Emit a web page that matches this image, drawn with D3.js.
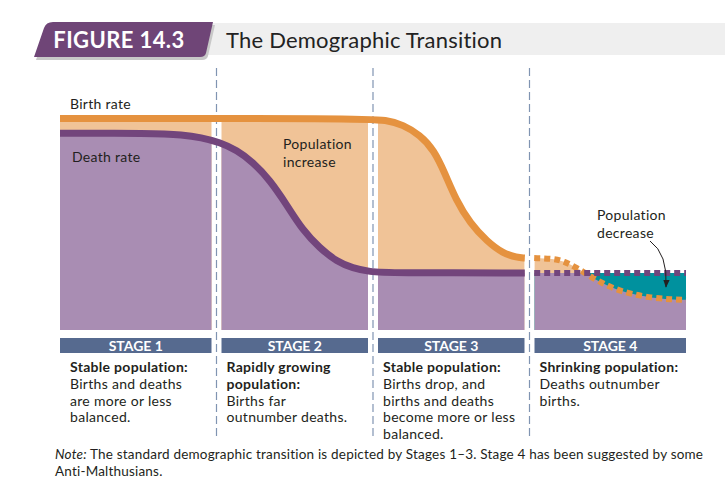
<!DOCTYPE html>
<html>
<head>
<meta charset="utf-8">
<script src="https://cdn.jsdelivr.net/npm/d3@7"></script>
<style>
  body { margin: 0; background: #fff; }
  svg { display: block; font-family: Lato, "Open Sans", sans-serif; }
</style>
</head>
<body>
<script>
const width = 725;
const height = 489;

// stages and their texts
const stageNames = ["STAGE 1", "STAGE 2", "STAGE 3", "STAGE 4"];
const stageHeads = [
    ["Stable population:"],
    ["Rapidly growing", "population:"],
    ["Stable population:"],
    ["Shrinking population:"]
];
const stageBodies = [
    ["Births and deaths", "are more or less", "balanced."],
    ["Births far", "outnumber deaths."],
    ["Births drop, and", "births and deaths", "become more or less", "balanced."],
    ["Deaths outnumber", "births."]
];

// rates for stages 1-3 (x in stage units)
const birthX = [0, 1.92, 2.09, 2.19, 2.30, 2.39, 2.46, 2.53, 2.62, 2.73, 2.83, 2.92, 2.97];
const birthRate = [40, 40, 39.7, 38.8, 36.9, 34.0, 29.6, 24.6, 20.2, 16.7, 14.5, 13.7, 13.6];
const deathX = [0, 0.58, 0.79, 0.9, 1.02, 1.13, 1.23, 1.34, 1.45, 1.55, 1.66, 1.77, 1.87, 1.98, 2.1, 2.97];
const deathRate = [37.2, 37.2, 36.9, 36.4, 35.5, 34.0, 31.8, 28.4, 23.6, 18.9, 15.5, 12.9, 11.7, 11.0, 10.8, 10.8];

// stage 4 (suggested, dashed)
const birth4X = [3.03, 3.15, 3.22, 3.30, 3.38, 3.46, 3.55, 3.65, 3.78, 3.9, 4.0];
const birth4Rate = [13.6, 13.5, 13.0, 11.8, 10.3, 8.9, 7.7, 6.8, 6.1, 5.8, 5.7];
const death4X = [3.03, 4.0];
const death4Rate = [10.8, 10.8];

const orange = "#E5923F", orangeFill = "#F0C397";
const purple = "#72457C", purpleFill = "#A98DB3";
const teal = "#00919E";
const ink = "#231F20";

const zip = (xs, ys) => xs.map((v, i) => [v, ys[i]]);
const birth = zip(birthX, birthRate);
const death = zip(deathX, deathRate);
const birth4 = zip(birth4X, birth4Rate);
const death4 = zip(death4X, death4Rate);

const svg = d3.select("body").append("svg")
    .attr("width", width)
    .attr("height", height);

const x = d3.scaleLinear().domain([0, 4]).range([60, 686]);
const y = d3.scaleLinear().domain([0, 45]).range([330, 92]);

// panel bounds (white gap around each stage boundary)
const panels = stageNames.map((s, i) => ({
    left: i === 0 ? x(0) : x(i) + 5,
    right: i === 3 ? x(4) : x(i + 1) - 5
}));

const defs = svg.append("defs");
defs.append("clipPath").attr("id", "clip123")
    .selectAll("rect").data(panels.slice(0, 3)).enter().append("rect")
    .attr("x", d => d.left).attr("y", 0)
    .attr("width", d => d.right - d.left).attr("height", y(0));
defs.append("clipPath").attr("id", "clip4")
    .append("rect")
    .attr("x", panels[3].left).attr("y", 0)
    .attr("width", panels[3].right - panels[3].left).attr("height", y(0));

const area = d3.area()
    .x(d => x(d[0])).y0(y(0)).y1(d => y(d[1]))
    .curve(d3.curveBasis);
const line = d3.line()
    .x(d => x(d[0])).y(d => y(d[1]))
    .curve(d3.curveBasis);

defs.append("clipPath").attr("id", "underBirth4")
    .append("path").attr("d", area(birth4));

// ---- header ----
svg.append("rect")
    .attr("x", 200).attr("y", 23)
    .attr("width", width - 200).attr("height", 32)
    .attr("fill", "#EFEFEF");

const tabPath = "M34,57 L44,28 Q46,22 53,22 L213,22 L206,53 Q205,57 200,57 Z";
svg.append("path").attr("d", tabPath)
    .attr("transform", "translate(2,3)")
    .attr("fill", "#C8C8C8");
svg.append("path").attr("d", tabPath).attr("fill", "#6F4577");

svg.append("text")
    .attr("x", 119).attr("y", 40).attr("dy", "0.36em")
    .attr("text-anchor", "middle")
    .attr("font-size", 22).attr("font-weight", 700)
    .attr("letter-spacing", 0.4)
    .attr("fill", "#fff")
    .text("FIGURE 14.3");

svg.append("text")
    .attr("x", 226).attr("y", 40).attr("dy", "0.36em")
    .attr("font-size", 22)
    .attr("letter-spacing", 0.2)
    .attr("fill", "#222")
    .text("The Demographic Transition");

// ---- fills ----
const g123 = svg.append("g").attr("clip-path", "url(#clip123)");
g123.append("path").attr("d", area(birth)).attr("fill", orangeFill);
g123.append("path").attr("d", area(death)).attr("fill", purpleFill);

const g4 = svg.append("g").attr("clip-path", "url(#clip4)");
g4.append("path").attr("d", area(birth4)).attr("fill", orangeFill);
g4.append("path").attr("d", area(death4)).attr("fill", teal);
g4.append("path").attr("d", area(death4)).attr("fill", purpleFill)
    .attr("clip-path", "url(#underBirth4)");

// ---- stage boundaries (dashed) ----
svg.selectAll("line.bound")
    .data([1, 2, 3]).enter().append("line")
    .attr("class", "bound")
    .attr("x1", d => x(d)).attr("x2", d => x(d))
    .attr("y1", 68).attr("y2", 440)
    .attr("stroke", "#8094B2")
    .attr("stroke-width", 1.2)
    .attr("stroke-dasharray", "8,4");

// ---- rate lines ----
svg.append("path").attr("d", line(death))
    .attr("fill", "none").attr("stroke", purple).attr("stroke-width", 7);
svg.append("path").attr("d", line(birth))
    .attr("fill", "none").attr("stroke", orange).attr("stroke-width", 7);

svg.append("path").attr("d", line(birth4))
    .attr("fill", "none").attr("stroke", orange).attr("stroke-width", 6)
    .attr("stroke-dasharray", "6,4");
svg.append("path").attr("d", line(death4))
    .attr("fill", "none").attr("stroke", purple).attr("stroke-width", 6)
    .attr("stroke-dasharray", "6,4");

// ---- labels in the plot ----
const label = (tx, ty, lines) => {
    const t = svg.append("text")
        .attr("font-size", 14).attr("letter-spacing", 0.3).attr("fill", ink);
    lines.forEach((s, i) => {
        t.append("tspan").attr("x", tx).attr("y", ty + i * 17.5)
            .attr("dy", "0.36em").text(s);
    });
};
label(70, 104, ["Birth rate"]);
label(72, 157, ["Death rate"]);
label(283, 144, ["Population", "increase"]);
label(597, 215, ["Population", "decrease"]);

defs.append("marker").attr("id", "arrow")
    .attr("viewBox", "0 0 10 10").attr("refX", 9).attr("refY", 5)
    .attr("markerWidth", 8).attr("markerHeight", 8)
    .attr("orient", "auto-start-reverse")
    .append("path").attr("d", "M0,1 L10,5 L0,9 Z").attr("fill", ink);

svg.append("path")
    .attr("d", "M650,241 Q668,254 666,287")
    .attr("fill", "none").attr("stroke", ink).attr("stroke-width", 1)
    .attr("marker-end", "url(#arrow)");

// ---- stage bars and descriptions ----
const stageG = svg.selectAll("g.stage")
    .data(panels).enter().append("g").attr("class", "stage");

stageG.append("rect")
    .attr("x", d => d.left).attr("y", 338)
    .attr("width", d => d.right - d.left).attr("height", 15)
    .attr("fill", "#566A8F");

stageG.append("text")
    .attr("x", d => (d.left + d.right) / 2).attr("y", 345.5).attr("dy", "0.36em")
    .attr("text-anchor", "middle")
    .attr("font-size", 14).attr("font-weight", 700).attr("fill", "#fff")
    .text((d, i) => stageNames[i]);

stageG.each(function (d, i) {
    const t = d3.select(this).append("text")
        .attr("font-size", 14).attr("letter-spacing", 0.3).attr("fill", ink);
    const tx = x(i) + 10;
    const rows = stageHeads[i].map(s => [s, true]).concat(stageBodies[i].map(s => [s, false]));
    rows.forEach((r, j) => {
        t.append("tspan")
            .attr("x", tx).attr("y", 367 + j * 16.75).attr("dy", "0.36em")
            .attr("font-weight", r[1] ? 700 : 400)
            .text(r[0]);
    });
});

// ---- note ----
const note = svg.append("text").attr("font-size", 13.5)
    .attr("letter-spacing", 0.2).attr("fill", ink);
const n1 = note.append("tspan").attr("x", 55).attr("y", 454).attr("dy", "0.36em");
n1.append("tspan").attr("font-style", "italic").text("Note:");
n1.append("tspan").text(" The standard demographic transition is depicted by Stages 1\u20133. Stage 4 has been suggested by some");
note.append("tspan").attr("x", 55).attr("y", 471).attr("dy", "0.36em").text("Anti-Malthusians.");
</script>
</body>
</html>
